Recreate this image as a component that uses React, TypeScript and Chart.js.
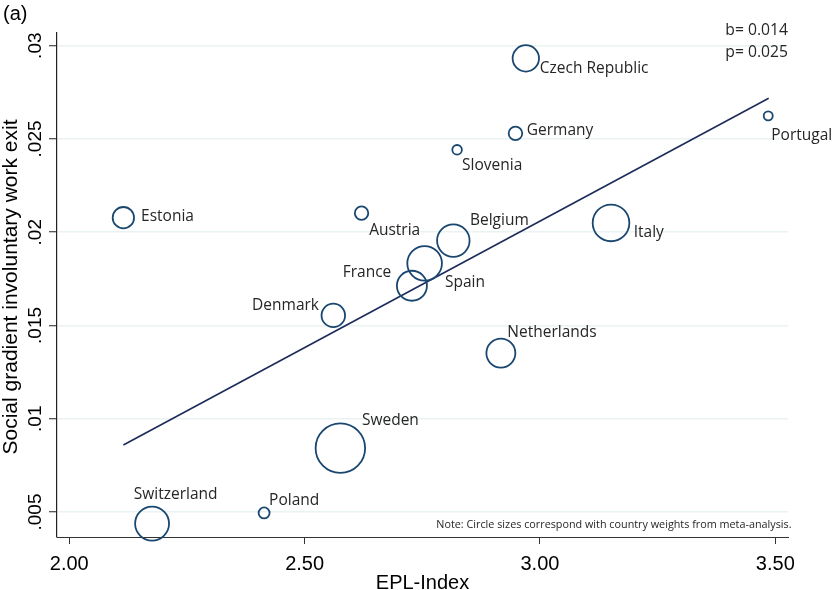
import { useEffect, useRef } from 'react'
import { Chart, registerables } from 'chart.js'

Chart.register(...registerables)

const countries = ['Estonia', 'Austria', 'Czech Republic', 'Germany', 'Slovenia', 'Portugal', 'Belgium', 'Italy', 'France', 'Spain', 'Denmark', 'Sweden', 'Switzerland', 'Poland', 'Netherlands']
const eplIndex = [2.115, 2.621, 2.970, 2.948, 2.824, 3.485, 2.816, 3.151, 2.755, 2.728, 2.561, 2.576, 2.176, 2.414, 2.917]
const socialGradient = [0.02078, 0.02102, 0.02932, 0.0253, 0.02442, 0.02624, 0.01955, 0.0205, 0.01833, 0.01713, 0.01554, 0.00842, 0.00438, 0.00495, 0.01352]
const weights = [1.9, 0.75, 2.9, 0.77, 0.38, 0.34, 4.4, 5.6, 5.0, 3.75, 2.3, 10.2, 4.8, 0.5, 3.5]

const fitX = [2.115, 3.486]
const fitY = [0.00859, 0.02718]

const xTicks = [2, 2.5, 3, 3.5]
const yTicks = [0.005, 0.01, 0.015, 0.02, 0.025, 0.03]

const statLines = ['b= 0.014', 'p= 0.025']
const note = 'Note: Circle sizes correspond with country weights from meta-analysis.'

// label placement around each marker: [dx, dy(baseline), align]
const labelPlace: Record<string, [number, number, CanvasTextAlign]> = {
  'Estonia': [17.7, 3.1, 'left'],
  'Austria': [7.6, 21.5, 'left'],
  'Czech Republic': [14, 14.2, 'left'],
  'Germany': [11.3, 1.4, 'left'],
  'Slovenia': [5, 20.1, 'left'],
  'Portugal': [3, 23.8, 'left'],
  'Belgium': [16.6, -15.6, 'left'],
  'Italy': [22.7, 14.5, 'left'],
  'France': [-33.3, 13.5, 'right'],
  'Spain': [33, 1.5, 'left'],
  'Denmark': [-14.3, -5.9, 'right'],
  'Sweden': [21.6, -22.9, 'left'],
  'Switzerland': [-18.3, -24.3, 'left'],
  'Poland': [5, -7.6, 'left'],
  'Netherlands': [6.4, -15.8, 'left'],
}

const SANS = '"Liberation Sans", Arial, sans-serif'
const LABEL = '"Open Sans", sans-serif'

const fmtY = (v: number) => String(+v.toFixed(4)).replace(/^0/, '')

const textPlugin = {
  id: 'textPlugin',
  afterDraw(chart: any) {
    const { ctx, chartArea } = chart
    const y = chart.scales.y
    ctx.save()
    ctx.fillStyle = '#000'

    // y tick labels, rotated
    ctx.font = `19px ${SANS}`
    ctx.textAlign = 'center'
    ctx.textBaseline = 'alphabetic'
    yTicks.forEach(v => {
      ctx.save()
      ctx.translate(40.5, y.getPixelForValue(v))
      ctx.rotate(-Math.PI / 2)
      ctx.fillText(fmtY(v), 0, 0)
      ctx.restore()
    })

    // y title
    ctx.font = `21px ${SANS}`
    ctx.save()
    ctx.translate(16.7, (chartArea.top + chartArea.bottom) / 2 + 2)
    ctx.rotate(-Math.PI / 2)
    ctx.fillText('Social gradient involuntary work exit', 0, 0)
    ctx.restore()

    // x title
    ctx.font = `20px ${SANS}`
    ctx.fillText('EPL-Index', (chartArea.left + chartArea.right) / 2, 589)

    // panel letter
    ctx.textAlign = 'left'
    ctx.fillText('(a)', 3, 19.5)

    // country labels
    ctx.fillStyle = '#262626'
    ctx.font = `15.5px ${LABEL}`
    const meta = chart.getDatasetMeta(0)
    countries.forEach((c, i) => {
      const pt = meta.data[i]
      const [dx, dy, align] = labelPlace[c]
      ctx.textAlign = align
      ctx.fillText(c, pt.x + dx, pt.y + dy)
    })

    // stats
    ctx.font = `15.7px ${LABEL}`
    ctx.textAlign = 'right'
    ctx.fillText(statLines[0], chartArea.right, 35)
    ctx.fillText(statLines[1], chartArea.right, 56.5)

    // note
    ctx.font = `10.8px ${LABEL}`
    ctx.fillText(note, chartArea.right + 3.5, 527.5)
    ctx.restore()
  },
}

export default function App() {
  const canvasRef = useRef<HTMLCanvasElement | null>(null)

  useEffect(() => {
    if (!canvasRef.current) return
    const chart = new Chart(canvasRef.current, {
      type: 'bubble',
      data: {
        datasets: [
          {
            type: 'bubble',
            data: countries.map((_, i) => ({ x: eplIndex[i], y: socialGradient[i], r: 7.75 * Math.sqrt(weights[i]) })),
            borderColor: '#1a476f',
            backgroundColor: 'rgba(0,0,0,0)',
            borderWidth: 1.8,
            clip: false as any,
          },
          {
            type: 'line',
            data: fitX.map((x, i) => ({ x, y: fitY[i] })),
            borderColor: '#1c2c5a',
            borderWidth: 1.6,
            pointRadius: 0,
            fill: false,
          } as any,
        ],
      },
      options: {
        animation: false,
        responsive: true,
        maintainAspectRatio: false,
        events: [],
        layout: { autoPadding: false, padding: { left: 0, right: 44, top: 33, bottom: 0 } },
        plugins: { legend: { display: false }, tooltip: { enabled: false } },
        scales: {
          x: {
            type: 'linear',
            min: 1.974,
            max: 3.527,
            afterBuildTicks: (s: any) => { s.ticks = xTicks.map(value => ({ value })) },
            afterFit: (s: any) => { s.height = 53 },
            grid: { drawOnChartArea: false, drawTicks: true, tickLength: 7, tickColor: '#333', tickWidth: 1 },
            border: { color: '#333', width: 1 },
            ticks: {
              padding: 8,
              color: '#000',
              font: { family: SANS, size: 20 },
              callback: (v: any) => Number(v).toFixed(2),
            },
          },
          y: {
            type: 'linear',
            min: 0.00366,
            max: 0.03068,
            afterBuildTicks: (s: any) => { s.ticks = yTicks.map(value => ({ value })) },
            afterFit: (s: any) => { s.width = 57 },
            grid: { color: '#eaf2f3', lineWidth: 1.5, drawTicks: true, tickLength: 8, tickColor: '#222', tickWidth: 1 },
            border: { color: '#222', width: 1.2 },
            ticks: { display: false },
          },
        },
      },
      plugins: [textPlugin],
    })
    return () => chart.destroy()
  }, [])

  return (
    <div style={{ position: 'fixed', left: 0, top: 0, width: 832, height: 590, background: '#fff' }}>
      <canvas ref={canvasRef} style={{ width: '100%', height: '100%' }} />
    </div>
  )
}
